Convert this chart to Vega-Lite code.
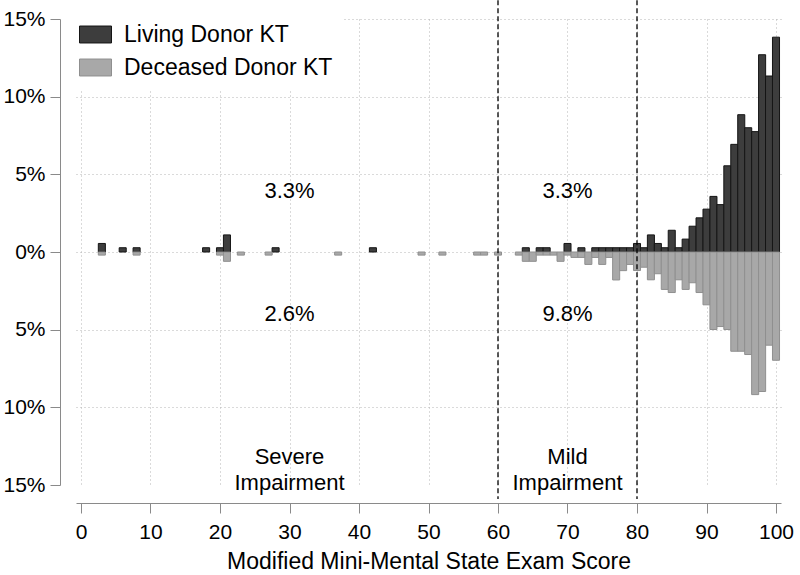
{
  "$schema": "https://vega.github.io/schema/vega-lite/v6.json",
  "width": 705,
  "height": 466,
  "autosize": {"type": "none"},
  "padding": {"left": 76, "top": 19, "right": 19, "bottom": 90},
  "background": "white",
  "config": {"view": {"stroke": null}, "font": "Liberation Sans"},
  "datasets": {
    "bars": [
      {"score": 3, "group": "Living Donor KT", "pct": 0.55},
      {"score": 6, "group": "Living Donor KT", "pct": 0.275},
      {"score": 8, "group": "Living Donor KT", "pct": 0.275},
      {"score": 18, "group": "Living Donor KT", "pct": 0.275},
      {"score": 20, "group": "Living Donor KT", "pct": 0.275},
      {"score": 21, "group": "Living Donor KT", "pct": 1.1},
      {"score": 28, "group": "Living Donor KT", "pct": 0.275},
      {"score": 42, "group": "Living Donor KT", "pct": 0.275},
      {"score": 64, "group": "Living Donor KT", "pct": 0.275},
      {"score": 66, "group": "Living Donor KT", "pct": 0.275},
      {"score": 67, "group": "Living Donor KT", "pct": 0.275},
      {"score": 70, "group": "Living Donor KT", "pct": 0.55},
      {"score": 72, "group": "Living Donor KT", "pct": 0.275},
      {"score": 74, "group": "Living Donor KT", "pct": 0.275},
      {"score": 75, "group": "Living Donor KT", "pct": 0.275},
      {"score": 76, "group": "Living Donor KT", "pct": 0.275},
      {"score": 77, "group": "Living Donor KT", "pct": 0.275},
      {"score": 78, "group": "Living Donor KT", "pct": 0.275},
      {"score": 79, "group": "Living Donor KT", "pct": 0.275},
      {"score": 80, "group": "Living Donor KT", "pct": 0.55},
      {"score": 81, "group": "Living Donor KT", "pct": 0.275},
      {"score": 82, "group": "Living Donor KT", "pct": 1.1},
      {"score": 83, "group": "Living Donor KT", "pct": 0.55},
      {"score": 84, "group": "Living Donor KT", "pct": 0.275},
      {"score": 85, "group": "Living Donor KT", "pct": 1.4},
      {"score": 86, "group": "Living Donor KT", "pct": 0.275},
      {"score": 87, "group": "Living Donor KT", "pct": 0.83},
      {"score": 88, "group": "Living Donor KT", "pct": 1.66},
      {"score": 89, "group": "Living Donor KT", "pct": 2.2},
      {"score": 90, "group": "Living Donor KT", "pct": 2.76},
      {"score": 91, "group": "Living Donor KT", "pct": 3.58},
      {"score": 92, "group": "Living Donor KT", "pct": 3.05},
      {"score": 93, "group": "Living Donor KT", "pct": 5.55},
      {"score": 94, "group": "Living Donor KT", "pct": 6.93},
      {"score": 95, "group": "Living Donor KT", "pct": 8.84},
      {"score": 96, "group": "Living Donor KT", "pct": 8.0},
      {"score": 97, "group": "Living Donor KT", "pct": 7.75},
      {"score": 98, "group": "Living Donor KT", "pct": 12.7},
      {"score": 99, "group": "Living Donor KT", "pct": 11.33},
      {"score": 100, "group": "Living Donor KT", "pct": 13.83},
      {"score": 3, "group": "Deceased Donor KT", "pct": -0.2},
      {"score": 8, "group": "Deceased Donor KT", "pct": -0.2},
      {"score": 20, "group": "Deceased Donor KT", "pct": -0.2},
      {"score": 21, "group": "Deceased Donor KT", "pct": -0.6},
      {"score": 23, "group": "Deceased Donor KT", "pct": -0.2},
      {"score": 27, "group": "Deceased Donor KT", "pct": -0.2},
      {"score": 37, "group": "Deceased Donor KT", "pct": -0.2},
      {"score": 49, "group": "Deceased Donor KT", "pct": -0.2},
      {"score": 52, "group": "Deceased Donor KT", "pct": -0.2},
      {"score": 57, "group": "Deceased Donor KT", "pct": -0.2},
      {"score": 58, "group": "Deceased Donor KT", "pct": -0.2},
      {"score": 60, "group": "Deceased Donor KT", "pct": -0.2},
      {"score": 63, "group": "Deceased Donor KT", "pct": -0.2},
      {"score": 64, "group": "Deceased Donor KT", "pct": -0.6},
      {"score": 65, "group": "Deceased Donor KT", "pct": -0.6},
      {"score": 66, "group": "Deceased Donor KT", "pct": -0.2},
      {"score": 67, "group": "Deceased Donor KT", "pct": -0.2},
      {"score": 68, "group": "Deceased Donor KT", "pct": -0.2},
      {"score": 69, "group": "Deceased Donor KT", "pct": -0.6},
      {"score": 70, "group": "Deceased Donor KT", "pct": -0.2},
      {"score": 71, "group": "Deceased Donor KT", "pct": -0.35},
      {"score": 72, "group": "Deceased Donor KT", "pct": -0.35},
      {"score": 73, "group": "Deceased Donor KT", "pct": -0.8},
      {"score": 74, "group": "Deceased Donor KT", "pct": -0.35},
      {"score": 75, "group": "Deceased Donor KT", "pct": -0.8},
      {"score": 76, "group": "Deceased Donor KT", "pct": -0.35},
      {"score": 77, "group": "Deceased Donor KT", "pct": -1.8},
      {"score": 78, "group": "Deceased Donor KT", "pct": -1.2},
      {"score": 79, "group": "Deceased Donor KT", "pct": -0.8},
      {"score": 80, "group": "Deceased Donor KT", "pct": -1.19},
      {"score": 81, "group": "Deceased Donor KT", "pct": -0.98},
      {"score": 82, "group": "Deceased Donor KT", "pct": -1.79},
      {"score": 83, "group": "Deceased Donor KT", "pct": -1.4},
      {"score": 84, "group": "Deceased Donor KT", "pct": -2.41},
      {"score": 85, "group": "Deceased Donor KT", "pct": -2.61},
      {"score": 86, "group": "Deceased Donor KT", "pct": -1.79},
      {"score": 87, "group": "Deceased Donor KT", "pct": -2.41},
      {"score": 88, "group": "Deceased Donor KT", "pct": -1.98},
      {"score": 89, "group": "Deceased Donor KT", "pct": -2.61},
      {"score": 90, "group": "Deceased Donor KT", "pct": -3.4},
      {"score": 91, "group": "Deceased Donor KT", "pct": -4.99},
      {"score": 92, "group": "Deceased Donor KT", "pct": -4.8},
      {"score": 93, "group": "Deceased Donor KT", "pct": -4.99},
      {"score": 94, "group": "Deceased Donor KT", "pct": -6.39},
      {"score": 95, "group": "Deceased Donor KT", "pct": -6.39},
      {"score": 96, "group": "Deceased Donor KT", "pct": -6.6},
      {"score": 97, "group": "Deceased Donor KT", "pct": -9.18},
      {"score": 98, "group": "Deceased Donor KT", "pct": -8.98},
      {"score": 99, "group": "Deceased Donor KT", "pct": -6.0},
      {"score": 100, "group": "Deceased Donor KT", "pct": -6.97}
    ],
    "cuts": [{"score": 60}, {"score": 80}],
    "notes": [
      {"score": 30, "pct": 3.95, "label": "3.3%"},
      {"score": 70, "pct": 3.95, "label": "3.3%"},
      {"score": 30, "pct": -4.0, "label": "2.6%"},
      {"score": 70, "pct": -4.0, "label": "9.8%"},
      {"score": 30, "pct": -13.2, "label": "Severe\nImpairment"},
      {"score": 70, "pct": -13.2, "label": "Mild\nImpairment"}
    ]
  },
  "layer": [
    {
      "data": {"name": "bars"},
      "mark": {"type": "bar", "orient": "vertical", "width": 7.05, "strokeWidth": 1},
      "encoding": {
        "x": {
          "field": "score", "type": "quantitative",
          "scale": {"domain": [0, 100], "nice": false, "zero": false},
          "axis": {
            "values": [0, 10, 20, 30, 40, 50, 60, 70, 80, 90, 100],
            "format": "d",
            "offset": 18,
            "tickSize": 10,
            "tickColor": "#8a8a8a",
            "domainColor": "#8a8a8a",
            "labelPadding": 8,
            "labelFontSize": 21,
            "labelColor": "black",
            "labelFlush": false,
            "labelOverlap": false,
            "title": "Modified Mini-Mental State Exam Score",
            "titleFontSize": 23,
            "titleFontWeight": "normal",
            "titleColor": "black",
            "titlePadding": 8,
            "grid": true,
            "gridDash": [1, 3],
            "gridColor": "#b5b5b5"
          }
        },
        "y": {
          "field": "pct", "type": "quantitative",
          "scale": {"domain": [-15, 15], "nice": false},
          "axis": {
            "values": [-15, -10, -5, 0, 5, 10, 15],
            "labelExpr": "abs(datum.value) + '%'",
            "offset": 16,
            "tickSize": 10,
            "tickColor": "#8a8a8a",
            "domainColor": "#8a8a8a",
            "labelPadding": 5,
            "labelFontSize": 21,
            "labelColor": "black",
            "labelFlush": false,
            "labelOverlap": false,
            "title": null,
            "grid": true,
            "gridDash": [1, 3],
            "gridColor": "#b5b5b5",
            "gridOpacity": {"condition": {"test": "datum.value === -15", "value": 0}, "value": 1}
          }
        },
        "color": {
          "field": "group", "type": "nominal",
          "scale": {"domain": ["Living Donor KT", "Deceased Donor KT"], "range": ["#3d3d3d", "#a8a8a8"]},
          "legend": {
            "title": null, "orient": "none", "legendX": -7, "legendY": -11,
            "padding": 10, "fillColor": "white",
            "symbolType": "M-1,-0.53L1,-0.53L1,0.53L-1,0.53Z", "symbolSize": 1024,
            "symbolStrokeWidth": 1, "labelFontSize": 23, "labelColor": "black", "labelOffset": 12,
            "labelLimit": 400, "rowPadding": 4
          }
        },
        "stroke": {
          "field": "group", "type": "nominal",
          "scale": {"domain": ["Living Donor KT", "Deceased Donor KT"], "range": ["#151515", "#8f8f8f"]},
          "legend": {
            "title": null, "orient": "none", "legendX": -7, "legendY": -11,
            "padding": 10, "fillColor": "white",
            "symbolType": "M-1,-0.53L1,-0.53L1,0.53L-1,0.53Z", "symbolSize": 1024,
            "symbolStrokeWidth": 1, "labelFontSize": 23, "labelColor": "black", "labelOffset": 12,
            "labelLimit": 400, "rowPadding": 4
          }
        }
      }
    },
    {
      "data": {"name": "cuts"},
      "mark": {"type": "rule", "color": "black", "strokeDash": [5, 3], "strokeWidth": 1.3},
      "encoding": {
        "x": {"field": "score", "type": "quantitative"},
        "y": {"datum": 16.2},
        "y2": {"datum": -15.9}
      }
    },
    {
      "data": {"name": "notes"},
      "mark": {"type": "text", "fontSize": 22, "color": "black", "lineBreak": "\n", "lineHeight": 26, "baseline": "middle", "align": "center"},
      "encoding": {
        "x": {"field": "score", "type": "quantitative"},
        "y": {"field": "pct", "type": "quantitative"},
        "text": {"field": "label"}
      }
    }
  ]
}
